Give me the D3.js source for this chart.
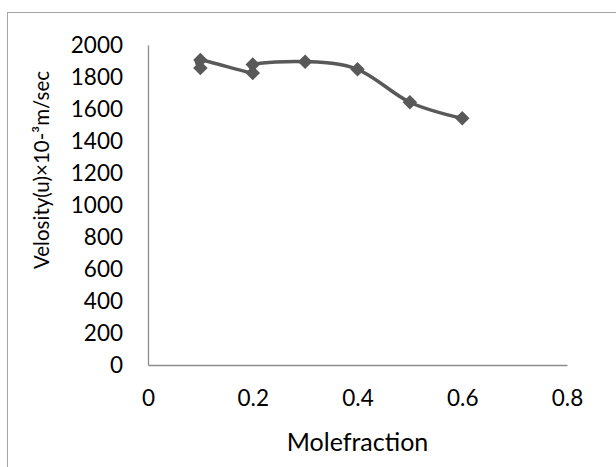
<!DOCTYPE html>
<html>
<head>
<meta charset="utf-8">
<script src="https://cdn.jsdelivr.net/npm/d3@7"></script>
<style>
  html, body { margin: 0; padding: 0; background: #fff; }
  svg { display: block; }
  text { font-family: Lato, "Noto Sans", sans-serif; fill: #000; }
</style>
</head>
<body>
<svg id="chart" width="616" height="467"></svg>
<script>
const moleFraction = [0.1, 0.1, 0.2, 0.2, 0.3, 0.4, 0.5, 0.6];
const velocity = [1856, 1906, 1825, 1878, 1896, 1848, 1642, 1542];
const xTicks = [0, 0.2, 0.4, 0.6, 0.8];
const yTicks = [0, 200, 400, 600, 800, 1000, 1200, 1400, 1600, 1800, 2000];
const xTitle = "Molefraction";
const yTitle = "Velosity(u)×10-³m/sec";

const svg = d3.select("#chart");
const W = 616, H = 467;
const plot = { left: 148, right: 567, top: 45, bottom: 365 };

svg.append("rect").attr("x", 7.5).attr("y", 12.5).attr("width", W).attr("height", H)
  .attr("fill", "#fff").attr("stroke", "#a6a6a6").attr("stroke-width", 1);

const x = d3.scaleLinear().domain([0, 0.8]).range([plot.left, plot.right]);
const y = d3.scaleLinear().domain([0, 2000]).range([plot.bottom, plot.top]);

const fs = 22.5;
const xAxis = svg.append("g").attr("transform", `translate(0,${plot.bottom})`)
  .call(d3.axisBottom(x).tickValues(xTicks).tickSize(0).tickPadding(25).tickFormat(d => d3.format("")(d)));
xAxis.select(".domain").attr("stroke", "#8c8c8c").attr("stroke-width", 1.3);
xAxis.selectAll("text").attr("font-size", fs).attr("fill", "#000").attr("font-family", "Lato, sans-serif");

const yAxis = svg.append("g").attr("transform", `translate(${plot.left},0)`)
  .call(d3.axisLeft(y).tickValues(yTicks).tickSize(0).tickPadding(25).tickFormat(d3.format("d")));
yAxis.select(".domain").attr("stroke", "#8c8c8c").attr("stroke-width", 1.3);
yAxis.selectAll("text").attr("font-size", fs).attr("fill", "#000").attr("font-family", "Lato, sans-serif");

const pts = moleFraction.map((m, i) => [m, velocity[i]]);
const line = d3.line().x(d => x(d[0])).y(d => y(d[1])).curve(d3.curveCardinal.tension(0));
svg.append("path").attr("d", line(pts)).attr("fill", "none")
  .attr("stroke", "#595959").attr("stroke-width", 3.5).attr("stroke-linejoin", "round");

svg.append("g").selectAll("path").data(pts).join("path")
  .attr("d", d3.symbol().type(d3.symbolSquare).size(105))
  .attr("transform", d => `translate(${x(d[0])},${y(d[1])}) rotate(45)`)
  .attr("fill", "#595959");

svg.append("text").attr("x", (plot.left + plot.right) / 2).attr("y", 441)
  .attr("text-anchor", "middle").attr("dominant-baseline", "central")
  .attr("font-size", 25).text(xTitle);

svg.append("text").attr("transform", "translate(41,170) rotate(-90)")
  .attr("text-anchor", "middle").attr("dominant-baseline", "central")
  .attr("font-size", 20.5).text(yTitle);
</script>
</body>
</html>
